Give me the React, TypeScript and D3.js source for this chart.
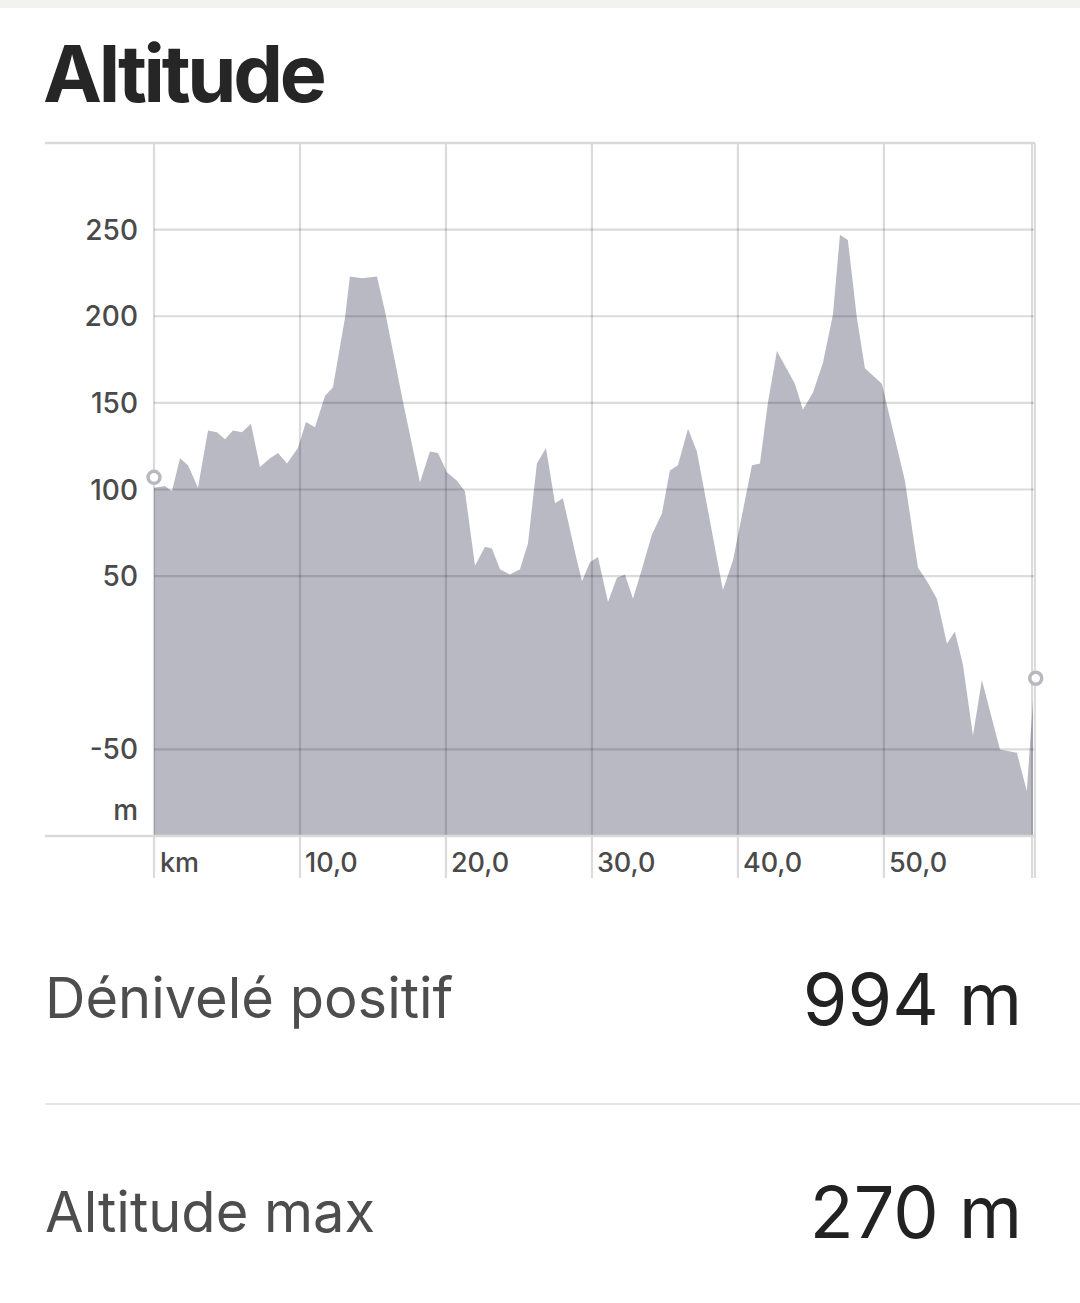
import React from "react";
import * as d3 from "d3";

const kmValues = [
  0, 0.75, 1.23, 1.78, 2.33, 3.01, 3.7, 4.32, 4.86, 5.41, 6.03, 6.64, 7.26, 7.95, 8.49, 9.11, 9.86,
  10.41, 11.03, 11.71, 12.26, 13.08, 13.42, 14.25, 15.27, 15.82, 17.05, 18.22, 18.9, 19.45,
  20.07, 20.75, 21.3, 21.99, 22.67, 23.15, 23.7, 24.38, 25.07, 25.62, 26.23, 26.85, 27.47, 28.01,
  28.97, 29.32, 29.86, 30.41, 31.1, 31.71, 32.26, 32.81, 33.42, 34.11, 34.79, 35.34, 35.89,
  36.58, 37.19, 38.97, 39.66, 40.96, 41.51, 42.05, 42.67, 43.9, 44.45, 45.14, 45.82, 46.51,
  46.99, 47.53, 48.15, 48.7, 49.86, 51.44, 52.33, 52.95, 53.63, 54.32, 54.86, 55.41, 56.1,
  56.71, 57.95, 59.11, 59.79, 60.21,
];
const altitudeValues = [
  101, 102, 99, 118, 114, 101, 134, 133, 129, 134, 133, 138, 113, 118, 121, 115, 124,
  139, 136, 154, 159, 199, 223, 222, 223, 203, 151, 104, 122, 121,
  110, 105, 99, 56, 67, 66, 54, 51, 54, 69, 115, 124, 92, 95,
  59, 47, 58, 61, 35, 49, 51, 37, 54, 74, 86, 111, 114,
  135, 122, 42, 59, 114, 115, 150, 180, 161, 146, 156, 173, 201,
  247, 244, 199, 170, 161, 105, 55, 47, 37, 11, 18, -1, -42,
  -10, -50, -52, -74, -22,
];

const yTicks = [250, 200, 150, 100, 50, -50];
const xTicks = [10, 20, 30, 40, 50];
const xTickLabels = ["10,0", "20,0", "30,0", "40,0", "50,0"];
const startMarker = { km: 0, alt: 107 };
const endMarker = { km: 60.4, alt: -9 };
const endKm = 60.15;

const stats = [
  { label: "Dénivelé positif", value: "994 m" },
  { label: "Altitude max", value: "270 m" },
];

export default function App() {
  const W = 1080;
  const H = 1303;
  const left = 154;
  const right = 1035;
  const top = 143;
  const bottom = 836;

  const x = d3.scaleLinear().domain([0, 60.35]).range([left, right]);
  const y = d3.scaleLinear().domain([-100, 300]).range([bottom, top]);

  const data = kmValues.map((k, i) => ({ km: k, alt: altitudeValues[i] }));
  const area = d3
    .area<{ km: number; alt: number }>()
    .x((d) => x(d.km))
    .y0(bottom)
    .y1((d) => y(d.alt))
    .curve(d3.curveLinear);

  const gridColor = "rgba(0,0,0,0.14)";
  const font = "Inter, 'Noto Sans', sans-serif";

  return (
    <div style={{ position: "absolute", left: 0, top: 0 }}>
      <svg width={W} height={H} style={{ display: "block", background: "#fff" }}>
        <rect x={0} y={0} width={W} height={8} fill="#f2f2ee" />
        <text
          x={43}
          y={102}
          fontFamily={font}
          fontWeight={700}
          fontSize={79}
          letterSpacing={-3.3}
          fill="#262626"
        >
          Altitude
        </text>

        <path d={area(data) || ""} fill="#b9b9c4" />

        {yTicks.map((t) => (
          <line key={"h" + t} x1={left} x2={right} y1={y(t)} y2={y(t)} stroke={gridColor} strokeWidth={2.2} />
        ))}
        {[0, ...xTicks].map((t) => (
          <line key={"v" + t} x1={x(t)} x2={x(t)} y1={top} y2={878} stroke={gridColor} strokeWidth={2.2} />
        ))}
        <line x1={x(endKm)} x2={x(endKm)} y1={top} y2={878} stroke={gridColor} strokeWidth={2.2} />
        <line x1={right} x2={right} y1={top} y2={878} stroke="#dcdcdc" strokeWidth={2} />
        <line x1={45} x2={right} y1={top} y2={top} stroke="#d9d9d9" strokeWidth={2.5} />
        <line x1={45} x2={right} y1={bottom} y2={bottom} stroke="#d9d9d9" strokeWidth={2.5} />

        {yTicks.map((t) => (
          <text
            key={"yl" + t}
            x={138}
            y={y(t) + 10}
            textAnchor="end"
            fontFamily={font}
            fontWeight={500}
            fontSize={28}
            fill="#4a4a4a"
          >
            {t}
          </text>
        ))}
        <text x={138} y={y(-85) + 10} textAnchor="end" fontFamily={font} fontWeight={500} fontSize={28} fill="#4a4a4a">
          m
        </text>

        <text x={x(0) + 6} y={872} fontFamily={font} fontWeight={500} fontSize={27} fill="#4a4a4a">
          km
        </text>
        {xTicks.map((t, i) => (
          <text key={"xl" + t} x={x(t) + 5} y={872} fontFamily={font} fontWeight={500} fontSize={27} fill="#4a4a4a">
            {xTickLabels[i]}
          </text>
        ))}

        {[startMarker, endMarker].map((m, i) => (
          <circle key={"m" + i} cx={x(m.km)} cy={y(m.alt)} r={6} fill="#fff" stroke="#b8b8c0" strokeWidth={3.5} />
        ))}

        {stats.map((s, i) => (
          <g key={s.label}>
            <text x={45} y={1018 + i * 214} fontFamily={font} fontSize={56} fill="#4d4d4d">
              {s.label}
            </text>
            <text x={1022} y={1025 + i * 213} textAnchor="end" fontFamily={font} fontSize={72} fill="#222">
              {s.value}
            </text>
          </g>
        ))}
        <line x1={45} x2={W} y1={1104} y2={1104} stroke="#dedede" strokeWidth={1.5} />
      </svg>
    </div>
  );
}
